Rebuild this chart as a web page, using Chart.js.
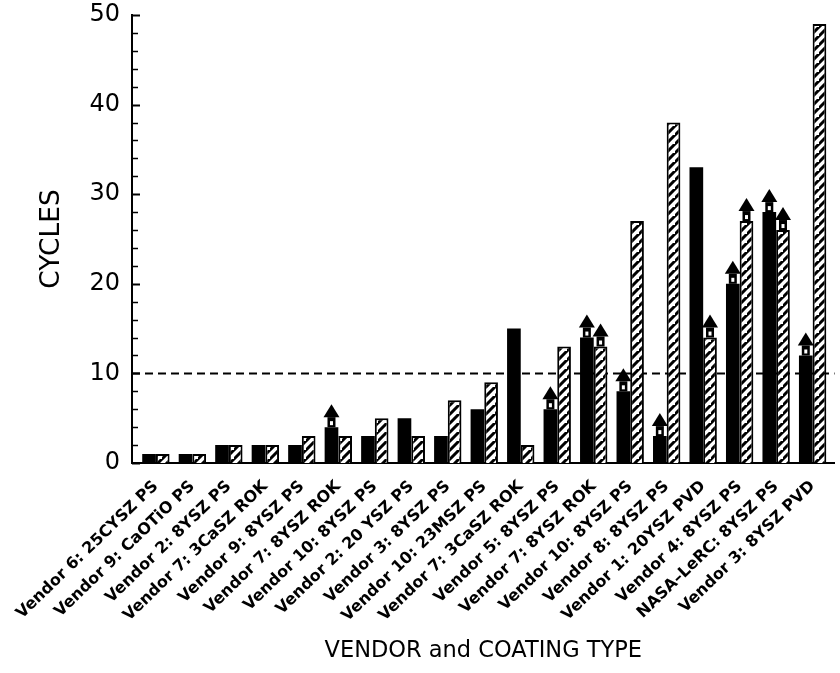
<!DOCTYPE html>
<html>
<head>
<meta charset="utf-8">
<script src="https://cdn.jsdelivr.net/npm/chart.js@4"></script>
<style>
  html, body { margin: 0; padding: 0; background: #fff; }
  #wrap { width: 840px; height: 673px; }
</style>
</head>
<body>
<div id="wrap"><canvas id="c" width="840" height="673"></canvas></div>
<script>
// ---- data ----
const categories = [
  'Vendor 6: 25CYSZ PS', 'Vendor 9: CaOTiO PS', 'Vendor 2: 8YSZ PS', 'Vendor 7: 3CaSZ ROK',
  'Vendor 9: 8YSZ PS', 'Vendor 7: 8YSZ ROK', 'Vendor 10: 8YSZ PS', 'Vendor 2: 20 YSZ PS',
  'Vendor 3: 8YSZ PS', 'Vendor 10: 23MSZ PS', 'Vendor 7: 3CaSZ ROK', 'Vendor 5: 8YSZ PS',
  'Vendor 7: 8YSZ ROK', 'Vendor 10: 8YSZ PS', 'Vendor 8: 8YSZ PS', 'Vendor 1: 20YSZ PVD',
  'Vendor 4: 8YSZ PS', 'NASA\u2013LeRC: 8YSZ PS', 'Vendor 3: 8YSZ PVD'
];
const solidValues   = [1, 1, 2, 2, 2, 4, 3, 5, 3, 6, 15, 6, 14, 8, 3, 33, 20, 28, 12];
const hatchedValues = [1, 1, 2, 2, 3, 3, 5, 3, 7, 9, 2, 13, 13, 27, 38, 14, 27, 26, 49];
// runout (test still running) markers: 1 = arrow drawn on top of bar
const solidArrows   = [0, 0, 0, 0, 0, 1, 0, 0, 0, 0, 0, 1, 1, 1, 1, 0, 1, 1, 1];
const hatchedArrows = [0, 0, 0, 0, 0, 0, 0, 0, 0, 0, 0, 0, 1, 0, 0, 1, 1, 1, 0];
const yTickValues = [0, 10, 20, 30, 40, 50];
const referenceLine = 10;

// ---- hatch pattern ----
function makeHatch() {
  const s = 9;
  const p = document.createElement('canvas');
  p.width = s; p.height = s;
  const g = p.getContext('2d');
  g.fillStyle = '#fff';
  g.fillRect(0, 0, s, s);
  g.strokeStyle = '#000';
  g.lineWidth = 3;
  g.beginPath();
  g.moveTo(-2, s + 2); g.lineTo(s + 2, -2);
  g.moveTo(-2 - s, s + 2); g.lineTo(2, -2);
  g.moveTo(s - 2, 2 * s + 2); g.lineTo(2 * s + 2, s - 2);
  g.stroke();
  return document.getElementById('c').getContext('2d').createPattern(p, 'repeat');
}

const FONT = "'DejaVu Sans', sans-serif";

const extrasPlugin = {
  id: 'extras',
  beforeDatasetsDraw(chart) {
    const ctx = chart.ctx;
    const y = chart.scales.y;
    const a = chart.chartArea;
    ctx.save();
    ctx.strokeStyle = '#000';
    for (let v = 0; v <= 50; v += 2) {
      const py = Math.round(y.getPixelForValue(v)) + 0.5;
      const major = v % 10 === 0;
      ctx.lineWidth = major ? 2 : 1.5;
      ctx.beginPath();
      ctx.moveTo(a.left, py);
      ctx.lineTo(a.left + (major ? 8 : 6), py);
      ctx.stroke();
    }
    const ry = y.getPixelForValue(referenceLine);
    ctx.setLineDash([8, 5]);
    ctx.lineWidth = 2;
    ctx.beginPath();
    ctx.moveTo(a.left, ry);
    ctx.lineTo(a.right, ry);
    ctx.stroke();
    ctx.restore();
  },
  afterDatasetsDraw(chart) {
    const ctx = chart.ctx;
    const flags = [solidArrows, hatchedArrows];
    ctx.save();
    chart.data.datasets.forEach((ds, di) => {
      const meta = chart.getDatasetMeta(di);
      meta.data.forEach((el, i) => {
        if (!flags[di][i]) return;
        const cx = el.x, top = el.y;
        ctx.fillStyle = '#000';
        ctx.fillRect(cx - 4, top - 10, 8, 10);
        ctx.fillStyle = '#fff';
        ctx.fillRect(cx - 1.5, top - 6, 3, 4);
        ctx.fillStyle = '#000';
        ctx.beginPath();
        ctx.moveTo(cx - 8, top - 10);
        ctx.lineTo(cx + 8, top - 10);
        ctx.lineTo(cx, top - 23);
        ctx.closePath();
        ctx.fill();
      });
    });
    ctx.restore();
  }
};

const hatch = makeHatch();

new Chart(document.getElementById('c'), {
  type: 'bar',
  data: {
    datasets: [
      {
        label: 'solid',
        data: solidValues.map((v, i) => ({ x: i, y: v })),
        backgroundColor: '#000',
        borderColor: '#000',
        borderWidth: 0,
        barPercentage: 1.0,
        categoryPercentage: 0.75
      },
      {
        label: 'hatched',
        data: hatchedValues.map((v, i) => ({ x: i, y: v })),
        backgroundColor: hatch,
        borderColor: '#000',
        borderWidth: 2,
        barPercentage: 1.0,
        categoryPercentage: 0.75
      }
    ]
  },
  options: {
    responsive: false,
    animation: false,
    devicePixelRatio: 1,
    layout: { padding: { top: 15, right: 1, left: 0, bottom: 0 } },
    plugins: { legend: { display: false }, tooltip: { enabled: false } },
    scales: {
      x: {
        type: 'linear',
        offset: false,
        min: -0.655,
        max: 18.6,
        grid: { display: false, drawTicks: false },
        border: { display: true, color: '#000', width: 2 },
        afterBuildTicks(scale) {
          scale.ticks = categories.map((_, i) => ({ value: i }));
        },
        afterFit(scale) { scale.height = 210; scale.paddingTop = 0; scale.paddingBottom = 0; },
        ticks: {
          autoSkip: false,
          minRotation: 44,
          maxRotation: 44,
          padding: 14,
          color: '#000',
          font: { family: FONT, size: 16, weight: 'bold' },
          callback: (v) => categories[v] ?? ''
        },
        title: {
          display: true,
          text: 'VENDOR and COATING TYPE',
          color: '#000',
          font: { family: FONT, size: 22.5 },
          padding: { top: 0, bottom: 8 }
        }
      },
      y: {
        min: 0,
        max: 50,
        grid: { display: false, drawTicks: false },
        border: { display: true, color: '#000', width: 2 },
        afterBuildTicks(scale) {
          scale.ticks = yTickValues.map(v => ({ value: v }));
        },
        afterFit(scale) { scale.width = 132; scale.paddingTop = 0; scale.paddingBottom = 0; },
        ticks: {
          padding: 12,
          color: '#000',
          font: { family: FONT, size: 24 }
        },
        title: {
          display: true,
          text: 'CYCLES',
          color: '#000',
          font: { family: FONT, size: 26.5 },
          padding: { top: 36, bottom: 0 }
        }
      }
    }
  },
  plugins: [extrasPlugin]
});
</script>
</body>
</html>
